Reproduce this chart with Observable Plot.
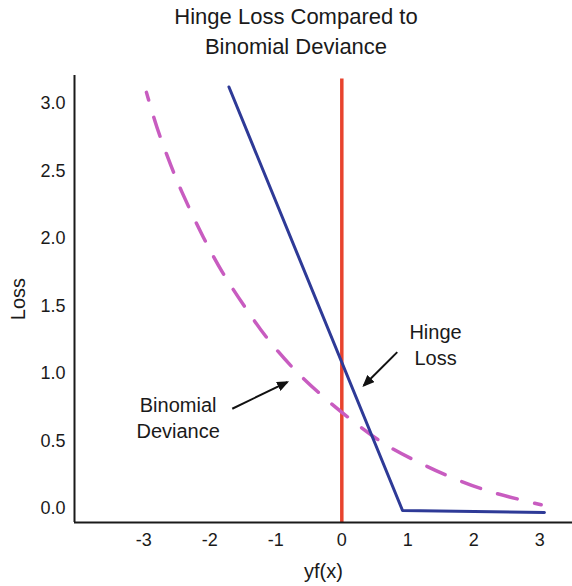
<!DOCTYPE html>
<html>
<head>
<meta charset="utf-8">
<script src="https://cdn.jsdelivr.net/npm/d3@7"></script>
<script src="https://cdn.jsdelivr.net/npm/@observablehq/plot@0.6"></script>
<style>
html, body { margin: 0; padding: 0; background: #fff; overflow: hidden; }
#title {
  height: 66px; box-sizing: border-box; width: 572px;
  padding-top: 2px; padding-left: 20px;
  text-align: center; color: #1a1a1a;
  font-family: "Liberation Sans", Arial, sans-serif; font-size: 22px; line-height: 30px;
}
</style>
</head>
<body>
<div id="title">Hinge Loss Compared to<br>Binomial Deviance</div>
<div id="chart"></div>
<script>
// ---- data ----
const xTicks = [-3, -2, -1, 0, 1, 2, 3];
const yTicks = [0, 0.5, 1, 1.5, 2, 2.5, 3];

const hingeX = [-1.71, 0.92, 3.07];
const hingeY = [3.12, -0.015, -0.03];

const devianceX = [-2.96, -2.80, -2.59, -2.42, -2.10, -1.81, -1.48, -1.13, -0.74, -0.31, 0.16, 0.64, 1.17, 1.71, 2.28, 2.88, 3.02];
const devianceY = [3.08, 2.82, 2.54, 2.34, 2.01, 1.75, 1.50, 1.26, 1.04, 0.84, 0.65, 0.48, 0.34, 0.22, 0.12, 0.044, 0.027];

const boundaryX = [0];
const boundaryTop = 3.18;

const noteText = ["Hinge\nLoss", "Binomial\nDeviance"];
const noteX = [1.42, -2.48];
const noteY = [1.22, 0.68];

const arrowX1 = [0.84, -1.66];
const arrowY1 = [1.157, 0.738];
const arrowX2 = [0.333, -0.827];
const arrowY2 = [0.910, 0.935];

const xDomain = [-4.05, 3.495];
const yDomain = [-0.104, 3.205];

// ---- tables ----
const hinge = hingeX.map((x, i) => ({x, y: hingeY[i]}));
const deviance = devianceX.map((x, i) => ({x, y: devianceY[i]}));
const notes = noteText.map((text, i) => ({text, x: noteX[i], y: noteY[i]}));
const arrows = arrowX1.map((x1, i) => ({x1, y1: arrowY1[i], x2: arrowX2[i], y2: arrowY2[i]}));

const plot = Plot.plot({
  width: 572,
  height: 520,
  marginTop: 9,
  marginBottom: 64,
  marginLeft: 74,
  marginRight: 0,
  style: {
    fontFamily: '"Liberation Sans", Arial, sans-serif',
    fontSize: "18px",
    color: "#1a1a1a",
    background: "#fff"
  },
  x: {domain: xDomain},
  y: {domain: yDomain},
  marks: [
    Plot.axisX({ticks: xTicks, tickSize: 0, tickPadding: 11, tickFormat: d => String(d), label: null, fontSize: 18}),
    Plot.axisY({ticks: yTicks, tickSize: 0, tickPadding: 9, tickFormat: d => d.toFixed(1), label: null, fontSize: 18}),
    Plot.ruleX(boundaryX, {y1: yDomain[0], y2: boundaryTop, stroke: "#e8432d", strokeWidth: 3.5}),
    Plot.line(deviance, {x: "x", y: "y", curve: "catmull-rom", stroke: "#c85cc0", strokeWidth: 3.5,
      strokeDasharray: "20,18", strokeDashoffset: 12}),
    Plot.line(hinge, {x: "x", y: "y", stroke: "#2e3a97", strokeWidth: 3}),
    Plot.ruleX([xDomain[0]], {stroke: "#1a1a1a", strokeWidth: 2}),
    Plot.ruleY([yDomain[0]], {stroke: "#1a1a1a", strokeWidth: 2}),
    Plot.link(arrows, {x1: "x1", y1: "y1", x2: "x2", y2: "y2", stroke: "#111", strokeWidth: 2}),
    Plot.text(notes, {x: "x", y: "y", text: "text", fontSize: 20, lineHeight: 1.3,
      textAnchor: "middle", lineAnchor: "middle", fill: "#1a1a1a"}),
    Plot.text(["Loss"], {text: d => d, frameAnchor: "left", dx: -56, rotate: -90, fontSize: 20,
      textAnchor: "middle", lineAnchor: "middle", fill: "#1a1a1a"}),
    Plot.text(["yf(x)"], {text: d => d, frameAnchor: "bottom", dy: 49, fontSize: 20,
      textAnchor: "middle", lineAnchor: "middle", fill: "#1a1a1a"})
  ]
});

// filled arrowheads on the annotation links
const svg = d3.select(plot);
const defs = svg.insert("defs", ":first-child");
defs.append("marker")
  .attr("id", "ah")
  .attr("viewBox", "0 0 12 10")
  .attr("refX", 10).attr("refY", 5)
  .attr("markerWidth", 12).attr("markerHeight", 10)
  .attr("markerUnits", "userSpaceOnUse")
  .attr("orient", "auto")
  .append("path").attr("d", "M0,0L12,5L0,10Z").attr("fill", "#111");
svg.selectAll('g[aria-label="link"] path').attr("marker-end", "url(#ah)");

document.getElementById("chart").appendChild(plot);
</script>
</body>
</html>
